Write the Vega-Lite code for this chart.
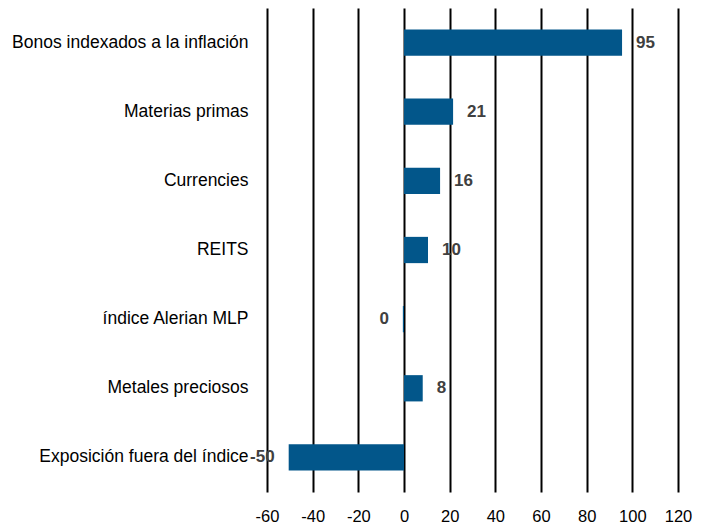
{
  "$schema": "https://vega.github.io/schema/vega-lite/v6.json",
  "autosize": "none",
  "width": 411,
  "height": 484,
  "padding": {"left": 267, "top": 8, "right": 32, "bottom": 38},
  "background": "white",
  "data": {
    "values": [
      {"category": "Bonos indexados a la inflación", "value": 95.5, "label": "95"},
      {"category": "Materias primas", "value": 21.5, "label": "21"},
      {"category": "Currencies", "value": 15.8, "label": "16"},
      {"category": "REITS", "value": 10.5, "label": "10"},
      {"category": "índice Alerian MLP", "value": -0.5, "label": "0"},
      {"category": "Metales preciosos", "value": 8.2, "label": "8"},
      {"category": "Exposición fuera del índice", "value": -50.5, "label": "-50"}
    ]
  },
  "encoding": {
    "y": {
      "field": "category", "type": "nominal", "sort": null,
      "scale": {"paddingInner": 0.62, "paddingOuter": 0.31},
      "axis": {"title": null, "domain": false, "ticks": false, "grid": false,
        "labelPadding": 19, "labelFontSize": 17.5, "labelFont": "Liberation Sans, Arial",
        "labelColor": "#000000", "labelLimit": 300}
    },
    "x": {
      "field": "value", "type": "quantitative",
      "scale": {"domain": [-60, 120], "nice": false, "zero": false},
      "axis": {"title": null, "values": [-60, -40, -20, 0, 20, 40, 60, 80, 100, 120],
        "labelExpr": "toString(datum.value)",
        "domain": false, "ticks": false, "grid": true, "gridColor": "#000000", "gridWidth": 2, "gridOpacity": 1,
        "labelPadding": 16, "labelFontSize": 16.5, "labelFont": "Liberation Sans, Arial",
        "labelColor": "#000000", "labelFlush": false}
    }
  },
  "layer": [
    {"mark": {"type": "bar", "color": "#02568A"}},
    {
      "transform": [{"filter": "datum.value >= 0"}],
      "mark": {"type": "text", "align": "left", "baseline": "middle", "dx": 14, "fontSize": 17, "fontWeight": "bold", "color": "#404040", "font": "Liberation Sans, Arial"},
      "encoding": {"text": {"field": "label"}}
    },
    {
      "transform": [{"filter": "datum.value < 0"}],
      "mark": {"type": "text", "align": "right", "baseline": "middle", "dx": -14, "fontSize": 17, "fontWeight": "bold", "color": "#404040", "font": "Liberation Sans, Arial"},
      "encoding": {"text": {"field": "label"}}
    }
  ],
  "config": {"view": {"stroke": null}}
}
